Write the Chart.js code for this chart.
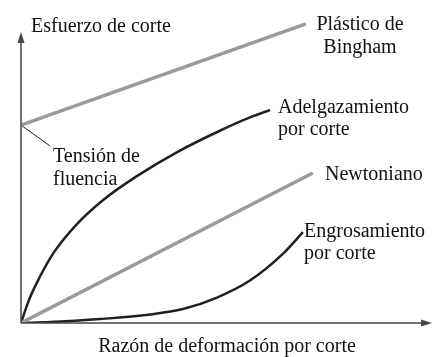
<!DOCTYPE html>
<html>
<head>
<meta charset="utf-8">
<script src="https://cdn.jsdelivr.net/npm/chart.js@4"></script>
<style>
  html, body { margin: 0; padding: 0; background: #fff; }
  #wrap { width: 448px; height: 357px; position: relative; }
</style>
</head>
<body>
<div id="wrap"><canvas id="chart"></canvas></div>
<script>
// Shear stress vs shear rate (rheology sketch)

// DATA
// ============================================================
const binghamX      = [0, 69.3];
const binghamY      = [65.3, 98.7];
const newtonX       = [0, 71.0];
const newtonY       = [0, 49.5];
const thinningX     = [0, 2, 4.5, 8, 13.5, 20, 28, 38, 48, 56, 60.6];
const thinningY     = [0, 7.8, 15, 23.3, 32.5, 40.6, 48.3, 56.4, 63.2, 68.0, 70.3];
const thickeningX   = [0, 7.1, 19.2, 31.4, 39.4, 47.7, 55.7, 63.7, 68.6];
const thickeningY   = [0, 0.3, 1.3, 2.8, 4.6, 8.4, 14.0, 22.8, 30.0];
const yieldLeaderX  = [0, 7.1];
const yieldLeaderY  = [65.3, 58.4];

const xTitle = 'Razón de deformación por corte';
const yTitle = 'Esfuerzo de corte';

const pts = (xs, ys) => xs.map((x, i) => ({ x, y: ys[i] }));

const GRAY  = '#9a9a9a';
const BLACK = '#231f20';
const FONT  = '20px "Liberation Serif", "Times New Roman", serif';

// axes + labels drawn on top of the plot
const sketchPlugin = {
  id: 'sketch',
  afterDraw(chart) {
    const { ctx, chartArea: a } = chart;
    const x0 = a.left, y0 = a.bottom;
    ctx.save();
    ctx.strokeStyle = '#444';
    ctx.fillStyle = '#444';
    ctx.lineWidth = 1.5;
    // y axis with arrow
    ctx.beginPath(); ctx.moveTo(x0, y0); ctx.lineTo(x0, 40); ctx.stroke();
    ctx.beginPath(); ctx.moveTo(x0, 32); ctx.lineTo(x0 - 3.5, 43); ctx.lineTo(x0 + 3.5, 43); ctx.closePath(); ctx.fill();
    // x axis with arrow
    ctx.beginPath(); ctx.moveTo(x0, y0); ctx.lineTo(424, y0); ctx.stroke();
    ctx.beginPath(); ctx.moveTo(432, y0); ctx.lineTo(421, y0 - 3.5); ctx.lineTo(421, y0 + 3.5); ctx.closePath(); ctx.fill();

    ctx.fillStyle = '#111';
    ctx.font = FONT;
    ctx.textBaseline = 'alphabetic';
    ctx.textAlign = 'left';
    ctx.fillText(yTitle, 31, 32);
    ctx.fillText('Tensión de', 53, 162);
    ctx.fillText('fluencia', 53, 185);
    ctx.fillText('Adelgazamiento', 278, 113);
    ctx.fillText('por corte', 278, 135);
    ctx.fillText('Newtoniano', 325, 180);
    ctx.fillText('Engrosamiento', 304, 237);
    ctx.fillText('por corte', 304, 259);
    ctx.textAlign = 'center';
    ctx.fillText('Plástico de', 360, 30);
    ctx.fillText('Bingham', 360, 53);
    ctx.fillText(xTitle, 227, 352);
    ctx.restore();
  }
};

new Chart(document.getElementById('chart'), {
  type: 'scatter',
  data: { datasets: [
    { data: pts(binghamX, binghamY),       borderColor: GRAY,  borderWidth: 3.5 },
    { data: pts(newtonX, newtonY),         borderColor: GRAY,  borderWidth: 3.5 },
    { data: pts(thinningX, thinningY),     borderColor: BLACK, borderWidth: 2.5, cubicInterpolationMode: 'monotone' },
    { data: pts(thickeningX, thickeningY), borderColor: BLACK, borderWidth: 2.5, cubicInterpolationMode: 'monotone' },
    { data: pts(yieldLeaderX, yieldLeaderY), borderColor: BLACK, borderWidth: 1 },
  ].map(d => ({ showLine: true, pointRadius: 0, pointHoverRadius: 0, fill: false, ...d })) },
  options: {
    responsive: true, maintainAspectRatio: false, animation: false,
    layout: { padding: { left: 21, right: 16, top: 20, bottom: 34 } },
    scales: {
      x: { type: 'linear', min: 0, max: 100, display: false },
      y: { type: 'linear', min: 0, max: 100, display: false },
    },
    plugins: { legend: { display: false }, tooltip: { enabled: false }, title: { display: false } },
  },
  plugins: [sketchPlugin],
});
</script>
</body>
</html>
